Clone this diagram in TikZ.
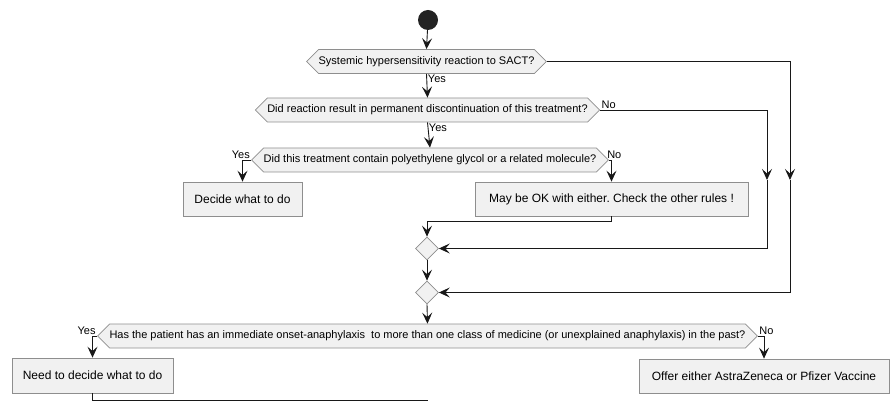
\documentclass[tikz,border=0pt]{standalone}
\usepackage{fontspec}
\setmainfont{Liberation Sans}
\usetikzlibrary{positioning,arrows.meta,shapes.geometric,shapes.symbols}
\frenchspacing

\definecolor{boxfill}{HTML}{F1F1F1}
\definecolor{boxline}{HTML}{8E8E8E}
\definecolor{flowline}{HTML}{181818}

\begin{document}
\begin{tikzpicture}[
        x=1pt,y=-1pt,
        flow/.style={draw=flowline, line width=0.9pt,
            -{Stealth[length=11pt,width=10pt,inset=4.5pt]}},
        plainflow/.style={draw=flowline, line width=0.9pt},
        question/.style={signal, signal to=west and east,
            signal pointer angle=90, draw=boxline, fill=boxfill,
            line width=0.7pt, font=\fontsize{11}{13}\selectfont,
            inner xsep=0pt, inner ysep=0pt, minimum height=24pt},
        action/.style={rectangle, draw=boxline, fill=boxfill,
            line width=0.7pt, font=\fontsize{12}{14}\selectfont,
            inner sep=0pt, minimum height=34pt},
        merge/.style={diamond, draw=boxline, fill=boxfill,
            line width=0.7pt, inner sep=0pt, minimum size=23pt},
        answer/.style={font=\fontsize{11}{13}\selectfont, inner sep=1pt}
    ]
    \useasboundingbox (0,0) rectangle (896,411);

    % start
    \fill[flowline!95] (428,20) circle (10);
    \node[circle, inner sep=0pt, minimum size=20pt] (begin) at (428,20) {};

    % first question
    \node[question, minimum width=237pt] (sact) at (426.5,61.5)
        {Systemic hypersensitivity reaction to SACT?};

    % second question
    \node[question, minimum width=339pt] (stop) at (427.5,110)
        {Did reaction result in permanent discontinuation of this treatment?};

    % third question
    \node[question, minimum width=354pt] (peg) at (430,160)
        {Did this treatment contain polyethylene glycol or a related molecule?};

    % actions of third question
    \node[action, minimum width=119pt] (decide) at (242.5,199) {Decide what to do};
    \node[action, minimum width=273pt] (either) at (611.5,199)
        {May be OK with either. Check the other rules !};

    % merge points
    \node[merge] (joinA) at (427,248.5) {};
    \node[merge] (joinB) at (427,292.5) {};

    % last question
    \node[question, minimum width=649pt] (past) at (427.5,336)
        {Has the patient has an immediate onset-anaphylaxis\ \ to more than one class of medicine (or unexplained anaphylaxis) in the past?};

    % actions of last question
    \node[action, minimum width=161pt, minimum height=35pt] (need) at (92.5,375.5)
        {Need to decide what to do};
    \node[action, minimum width=250pt] (offer) at (764,376)
        {Offer either AstraZeneca or Pfizer Vaccine};

    % free ends
    \coordinate (stopNo) at (767,180);
    \coordinate (sactNo) at (790,180);
    \coordinate (needEnd) at (428,400);

    % connectors
    \draw[flow] (begin) -- (sact.north);
    \draw[flow] (sact.south) -- node[answer, pos=0, anchor=north west] {Yes} (stop.north);
    \draw[flow] (stop.south) -- node[answer, pos=0, anchor=north west] {Yes} (peg.north);
    \draw[flow] (peg.west) -| node[answer, pos=0, anchor=south east] {Yes} (decide.north);
    \draw[flow] (peg.east) -| node[answer, pos=0, anchor=south west, xshift=-3pt] {No} (either.north);
    \draw[flow] (either.south) -- ++(0,5) -| (joinA.north);
    \draw[flow] (stop.east) -| node[answer, pos=0, anchor=south west] {No} (stopNo);
    \draw[flow] (stopNo) |- (joinA.east);
    \draw[flow] (sact.east) -| (sactNo);
    \draw[flow] (sactNo) |- (joinB.east);
    \draw[flow] (joinA.south) -- (joinB.north);
    \draw[flow] (joinB.south) -- (past.north);
    \draw[flow] (past.west) -| node[answer, pos=0, anchor=south east] {Yes} (need.north);
    \draw[flow] (past.east) -| node[answer, pos=0, anchor=south west] {No} (offer.north);
    \draw[plainflow] (need.south) |- (needEnd);

\end{tikzpicture}
\end{document}
